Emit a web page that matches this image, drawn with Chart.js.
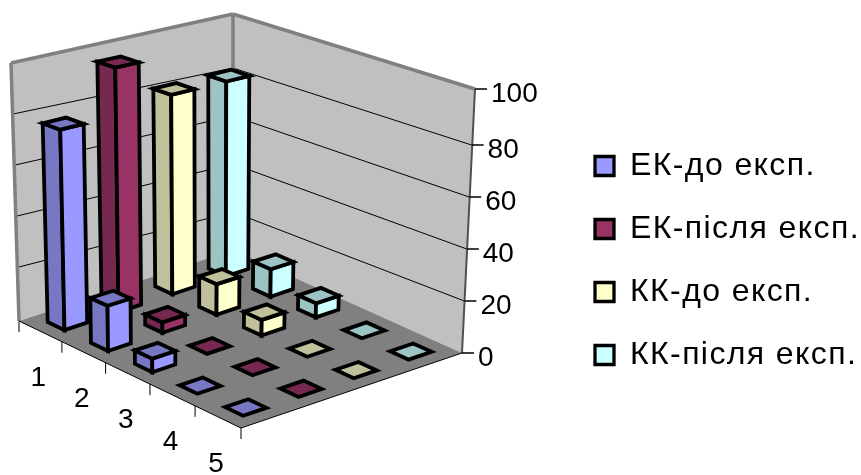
<!DOCTYPE html>
<html>
<head>
<meta charset="utf-8">
<style>
  html, body { margin: 0; padding: 0; background: #fff; }
</style>
<script src="https://cdn.jsdelivr.net/npm/chart.js@4/dist/chart.umd.min.js"></script>
</head>
<body>
<canvas id="myChart" width="861" height="475"></canvas>
<script>
const categories = ['1', '2', '3', '4', '5'];
const yTicks = [0, 20, 40, 60, 80, 100];
const ekBefore = [77, 17, 5, 0, 0];
const ekAfter = [96, 4, 0, 0, 0];
const kkBefore = [80, 12, 6, 0, 0];
const kkAfter = [80, 11, 5.5, 0, 0];

const seriesNames = ['ЕК-до експ.', 'ЕК-після експ.', 'КК-до експ.', 'КК-після експ.'];
const seriesValues = [ekBefore, ekAfter, kkBefore, kkAfter];
const lightColors = ['#9999ff', '#993366', '#ffffcc', '#ccffff'];
const darkColors = ['#7777c4', '#772850', '#c0c09a', '#9dc4c4'];

const FONT = '"Liberation Sans", Arial, sans-serif';

// corners of the 3d box on screen, order: left, front, right, back
const floorQuad = [[19, 321], [241, 428], [462, 353], [233, 250]];
const topQuad = [[11, 63], [247, 141], [475, 89], [233, 14]];
// gridlines sit a bit differently from the wall outline
const gridBottom = [[17, 319], [241, 428], [462, 353], [233, 260]];
const gridTop = [[11, 63], [247, 141], [474, 93], [233, 20]];

const BAR_DU = 0.078;
const BAR_DV = 0.105;
const BAR_STROKE = 3.8;

// unit square -> quad, u runs left->front, v runs left->back
function projector(q) {
    const [p0, p1, p2, p3] = q;
    const sx = p0[0] - p1[0] + p2[0] - p3[0];
    const sy = p0[1] - p1[1] + p2[1] - p3[1];
    const dx1 = p1[0] - p2[0], dx2 = p3[0] - p2[0];
    const dy1 = p1[1] - p2[1], dy2 = p3[1] - p2[1];
    const den = dx1 * dy2 - dx2 * dy1;
    const g = (sx * dy2 - dx2 * sy) / den;
    const h = (dx1 * sy - sx * dy1) / den;
    const a = p1[0] - p0[0] + g * p1[0], b = p3[0] - p0[0] + h * p3[0];
    const d = p1[1] - p0[1] + g * p1[1], e = p3[1] - p0[1] + h * p3[1];
    return (u, v) => {
        const w = g * u + h * v + 1;
        return [(a * u + b * v + p0[0]) / w, (d * u + e * v + p0[1]) / w];
    };
}
const onFloor = projector(floorQuad);
const onTop = projector(topQuad);
const gridLow = projector(gridBottom);
const gridHigh = projector(gridTop);

function mix(a, b, t) {
    return [a[0] + (b[0] - a[0]) * t, a[1] + (b[1] - a[1]) * t];
}
function barPoint(u, v, t) {
    return mix(onFloor(u, v), onTop(u, v), t);
}
function gridPoint(u, v, t) {
    return mix(gridLow(u, v), gridHigh(u, v), t);
}

function poly(ctx, pts, fill, stroke, width) {
    ctx.beginPath();
    pts.forEach((p, i) => i ? ctx.lineTo(p[0], p[1]) : ctx.moveTo(p[0], p[1]));
    ctx.closePath();
    if (fill) {
        ctx.fillStyle = fill;
        ctx.fill();
    }
    if (stroke) {
        ctx.strokeStyle = stroke;
        ctx.lineWidth = width;
        ctx.stroke();
    }
}
function line(ctx, a, b, color, width) {
    ctx.beginPath();
    ctx.moveTo(a[0], a[1]);
    ctx.lineTo(b[0], b[1]);
    ctx.strokeStyle = color;
    ctx.lineWidth = width;
    ctx.stroke();
}

const box3d = {
    id: 'box3d',
    afterLayout(chart) {
        const l = chart.legend;
        const pad = l.options.labels.padding;
        const h = l.bottom - l.top;
        l.left = 595 - pad;
        l.right = 861;
        l.top = 150 - pad;
        l.bottom = l.top + h;
    },
    beforeDraw(chart) {
        // the legend text is spaced wider than the plain font
        chart.ctx.letterSpacing = '1.4px';
    },
    // native flat bars are replaced by the prisms below
    beforeDatasetsDraw() {
        return false;
    },
    afterDraw(chart) {
        const ctx = chart.ctx;
        const x = chart.scales.x;
        const y = chart.scales.y;
        const toT = v => (y.bottom - y.getPixelForValue(v)) / y.height;
        ctx.letterSpacing = '0px';
        ctx.save();
        ctx.lineJoin = 'miter';

        // walls and floor
        const [L, F, R, B] = floorQuad;
        const [L1, , R1, B1] = topQuad;
        poly(ctx, [L, L1, B1, B], '#c0c0c0');
        poly(ctx, [B, B1, R1, R], '#c0c0c0');
        poly(ctx, [L, F, R, B], '#808080');

        // gridlines
        y.ticks.forEach(tk => {
            if (tk.value === 0 || tk.value === y.max) return;
            const t = toT(tk.value);
            const a = gridPoint(0, 0, t), b = gridPoint(0, 1, t), c = gridPoint(1, 1, t);
            line(ctx, a, b, '#000', 1);
            line(ctx, b, c, '#000', 1);
        });

        line(ctx, L1, L, '#808080', 3.5);
        line(ctx, L1, B1, '#808080', 3.5);
        line(ctx, B1, R1, '#808080', 3.5);
        line(ctx, B1, B, '#808080', 3.5);
        line(ctx, R1, R, '#505050', 2);
        line(ctx, L, F, '#000', 1);
        line(ctx, F, R, '#000', 1);

        // value axis on the right wall edge
        ctx.fillStyle = '#000';
        ctx.font = '28px ' + FONT;
        ctx.textBaseline = 'middle';
        ctx.textAlign = 'left';
        y.ticks.forEach(tk => {
            const t = toT(tk.value);
            const p = t === 1 ? R1 : gridPoint(1, 1, t);
            line(ctx, p, [p[0] + 12, p[1]], '#000', 1.5);
            ctx.fillText(String(tk.value), p[0] + 16, p[1] + 5);
        });

        // category axis along the front-left edge
        ctx.textAlign = 'center';
        categories.forEach((c, i) => {
            const u = (x.getPixelForValue(i) - x.left) / x.width;
            const p = onFloor(u, 0);
            ctx.fillText(c, p[0] - 2, p[1] + 47);
        });
        for (let k = 0; k <= categories.length; k++) {
            const p = onFloor(k / categories.length, 0);
            line(ctx, p, [p[0], p[1] + 11], '#000', 1);
        }

        // prisms, back row first
        for (let s = seriesValues.length - 1; s >= 0; s--) {
            const v = (s + 0.5) / seriesValues.length;
            seriesValues[s].forEach((val, i) => {
                const u = (x.getPixelForValue(i) - x.left) / x.width;
                const t = toT(val);
                const u0 = u - BAR_DU / 2, u1 = u + BAR_DU / 2;
                const v0 = v - BAR_DV / 2, v1 = v + BAR_DV / 2;
                const bl = barPoint(u0, v0, 0), bf = barPoint(u1, v0, 0), br = barPoint(u1, v1, 0);
                const tl = barPoint(u0, v0, t), tf = barPoint(u1, v0, t), tr = barPoint(u1, v1, t), tb = barPoint(u0, v1, t);
                if (val > 0) {
                    poly(ctx, [bl, bf, tf, tl], darkColors[s], '#000', BAR_STROKE);
                    poly(ctx, [bf, br, tr, tf], lightColors[s], '#000', BAR_STROKE);
                }
                poly(ctx, [tl, tf, tr, tb], darkColors[s], '#000', BAR_STROKE);
            });
        }
        ctx.restore();
    }
};

new Chart(document.getElementById('myChart'), {
    type: 'bar',
    data: {
        labels: categories,
        datasets: seriesNames.map((name, s) => ({
            label: name,
            data: seriesValues[s],
            backgroundColor: lightColors[s],
            borderColor: '#000',
            borderWidth: 3.3
        }))
    },
    plugins: [box3d],
    options: {
        responsive: false,
        animation: false,
        layout: { padding: 0 },
        scales: {
            x: { display: false, position: 'bottom', afterFit: s => { s.height = 122; } },
            pad: { display: false, axis: 'x', position: 'top', afterFit: s => { s.height = 91; } },
            y: {
                display: false,
                min: 0,
                max: 100,
                afterBuildTicks: s => { s.ticks = yTicks.map(value => ({ value })); }
            }
        },
        plugins: {
            tooltip: { enabled: false },
            legend: {
                position: 'right',
                align: 'start',
                labels: {
                    color: '#000',
                    font: { family: FONT, size: 32 },
                    boxWidth: 19,
                    boxHeight: 19,
                    padding: 31
                }
            }
        }
    }
});
</script>
</body>
</html>
